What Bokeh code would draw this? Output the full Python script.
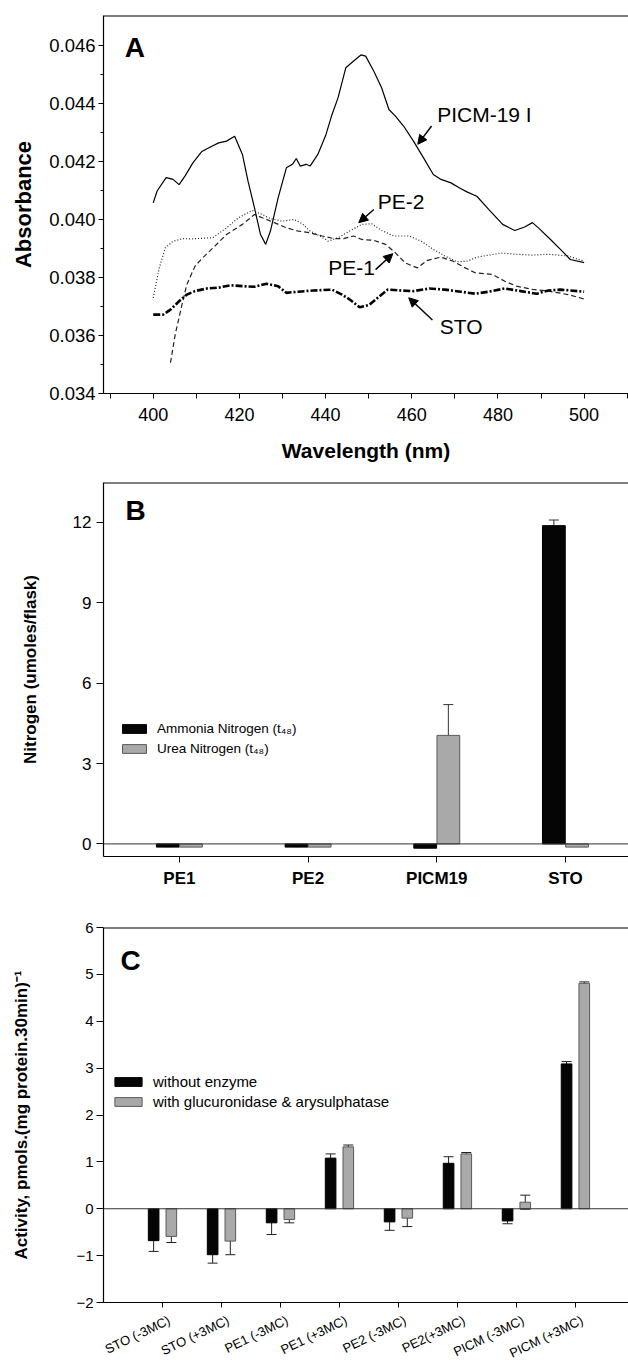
import math
from bokeh.plotting import figure
from bokeh.layouts import column
from bokeh.models import (Range1d, FixedTicker, Span, Legend, LegendItem, Whisker,
                          ColumnDataSource, Arrow, NormalHead, TeeHead, Label,
                          NumeralTickFormatter)
from bokeh.core.properties import value
from bokeh.embed import file_html
from bokeh.resources import INLINE

FONT = "Liberation Sans"

# ---------------- Panel A data ----------------
wl_picm = [400, 400.9, 403, 404.6, 406, 407.4, 409.2, 411.2, 412.9, 415.2, 417, 418.9, 420.7, 422,
           423.5, 424.9, 426.1, 427.2, 429, 430.9, 432.3, 433.2, 434.1, 435.5, 436.4, 438.2, 440.1,
           441.5, 442.9, 444.7, 446.5, 448.2, 449.3, 451.2, 453, 454.7, 456.2, 458.1, 460.4, 462.7,
           465, 466.8, 469.1, 471, 472.8, 475.1, 477.9, 481.1, 483.9, 486.2, 488, 489.4, 492.2,
           494.5, 496.8, 500]
abs_picm = [0.04057, 0.04098, 0.04144, 0.04138, 0.0412, 0.0415, 0.04195, 0.04233, 0.04247, 0.04264,
            0.0427, 0.04287, 0.04224, 0.04132, 0.0404, 0.03948, 0.03914, 0.0396, 0.04075, 0.04178,
            0.0419, 0.0421, 0.04184, 0.0419, 0.04184, 0.04224, 0.04293, 0.04362, 0.0442, 0.04523,
            0.04546, 0.04567, 0.04563, 0.04511, 0.04454, 0.04379, 0.04356, 0.04322, 0.0427, 0.04213,
            0.04155, 0.04138, 0.04126, 0.04109, 0.04095, 0.0408, 0.04034, 0.03983, 0.03962, 0.03974,
            0.03989, 0.03971, 0.03931, 0.03897, 0.03862, 0.03851]

wl_pe2 = [400, 401.4, 402.8, 404.6, 406.9, 408.8, 413.8, 417, 419.8, 423, 425.3, 427.2, 429.9, 432.7,
          434.6, 436.4, 438.7, 440.6, 442.9, 445.6, 448.4, 450.7, 453, 455.8, 459.4, 462.2, 465,
          467.7, 470.5, 472.8, 475.1, 477.9, 480.6, 484.3, 488, 491.7, 496.3, 500]
abs_pe2 = [0.0373, 0.03833, 0.03902, 0.03925, 0.03934, 0.03933, 0.03937, 0.03971, 0.04006, 0.04031,
           0.04017, 0.04003, 0.03994, 0.0400, 0.03985, 0.0396, 0.03943, 0.03925, 0.03937, 0.0396,
           0.03983, 0.03985, 0.03962, 0.03943, 0.03943, 0.03925, 0.03897, 0.03874, 0.03854, 0.03856,
           0.0387, 0.03877, 0.03884, 0.0388, 0.03877, 0.0388, 0.03874, 0.03856]

wl_pe1 = [404, 405.1, 406.5, 407.8, 409.7, 411.5, 414.3, 417, 420.7, 423.5, 425.3, 428.1, 430.9, 433.6,
          436.4, 439.2, 441.9, 444.2, 446.5, 448.4, 451.2, 453.9, 456.2, 458.5, 461.3, 463.6, 466.8,
          469.6, 472.4, 474.7, 478.8, 481.6, 484.3, 488, 491.7, 496.3, 500]
abs_pe1 = [0.03506, 0.03603, 0.03695, 0.03776, 0.03839, 0.03868, 0.03908, 0.03948, 0.03983, 0.04017,
           0.04006, 0.03989, 0.03971, 0.0396, 0.03954, 0.03943, 0.03934, 0.03934, 0.03943, 0.03931,
           0.03928, 0.03914, 0.03885, 0.0385, 0.03833, 0.03859, 0.0387, 0.03856, 0.03833, 0.03816,
           0.0381, 0.03787, 0.0377, 0.03759, 0.03753, 0.03741, 0.03726]

wl_sto = [400, 402.3, 404.1, 406, 407.8, 409.7, 412.4, 415.2, 417.9, 420.7, 423.5, 426.3, 429, 430.9,
          433.6, 437.3, 441.5, 443.8, 445.6, 447.9, 450.2, 452.1, 454.4, 457.6, 460.4, 464.1, 467.7,
          471.4, 474.7, 477.9, 481.6, 485.3, 489, 491.7, 494.5, 500]
abs_sto = [0.03672, 0.03672, 0.0369, 0.03718, 0.03741, 0.03753, 0.03762, 0.03765, 0.03773, 0.0377,
           0.03768, 0.03778, 0.0377, 0.03747, 0.03751, 0.03755, 0.03758, 0.03741, 0.03724, 0.03697,
           0.03706, 0.0373, 0.03758, 0.03755, 0.03753, 0.03762, 0.03758, 0.03751, 0.03744, 0.03751,
           0.03762, 0.03753, 0.03744, 0.03755, 0.03758, 0.03751]

a_yticks = [0.034, 0.036, 0.038, 0.040, 0.042, 0.044, 0.046]
a_yminor = [0.035, 0.037, 0.039, 0.041, 0.043, 0.045]
a_xticks = [400, 420, 440, 460, 480, 500]
a_xminor = [390, 410, 430, 450, 470, 490, 510]

a_labels = ["PICM-19 I", "PE-2", "PE-1", "STO"]
a_label_x = [465.9, 452.1, 440.6, 466.5]
a_label_y = [0.04362, 0.04063, 0.03833, 0.0363]
a_arrow_from = [(464.6, 0.04322), (451.2, 0.04034), (451.6, 0.03827), (464.8, 0.03653)]
a_arrow_to = [(461.4, 0.04259), (447.7, 0.03989), (455.6, 0.03882), (459.3, 0.0373)]

# ---------------- Panel B data ----------------
b_groups = ["PE1", "PE2", "PICM19", "STO"]
b_ammonia = [-0.12, -0.12, -0.16, 11.88]
b_ammonia_err = [0.02, 0.02, 0.02, 0.21]
b_urea = [-0.12, -0.12, 4.05, -0.12]
b_urea_err = [0.03, 0.03, 1.15, 0.03]
b_yticks = [0, 3, 6, 9, 12]

# ---------------- Panel C data ----------------
c_groups = ["STO (-3MC)", "STO (+3MC)", "PE1 (-3MC)", "PE1 (+3MC)", "PE2 (-3MC)",
            "PE2(+3MC)", "PICM (-3MC)", "PICM (+3MC)"]
c_without = [-0.68, -0.98, -0.30, 1.08, -0.28, 0.97, -0.26, 3.09]
c_without_err = [0.23, 0.18, 0.25, 0.09, 0.18, 0.14, 0.06, 0.05]
c_with = [-0.59, -0.69, -0.23, 1.32, -0.20, 1.17, 0.14, 4.81]
c_with_err = [0.13, 0.29, 0.07, 0.04, 0.18, 0.03, 0.15, 0.03]
c_yticks = [-2, -1, 0, 1, 2, 3, 4, 5, 6]

BLACK = "#050505"
GREY = "#a9a9a9"
GREY_EDGE = "#5a5a5a"


def base_fig(h, xr, yr, left, top, bottom):
    p = figure(width=628, height=h, x_range=xr, y_range=yr, output_backend="svg",
               toolbar_location=None, min_border_left=left, min_border_right=0,
               min_border_top=top, min_border_bottom=bottom)
    p.outline_line_color = None
    p.grid.visible = False
    for ax in (p.xaxis[0], p.yaxis[0]):
        ax.axis_line_color = "black"
        ax.axis_line_width = 1.2
        ax.major_tick_line_color = "black"
        ax.minor_tick_line_color = None
        ax.major_tick_in = 0
        ax.minor_tick_in = 0
        ax.major_label_text_font = FONT
        ax.major_label_text_color = "black"
        ax.axis_label_text_font = FONT
        ax.axis_label_text_font_style = "bold"
        ax.axis_label_text_color = "black"
    return p


# ================= Panel A =================
ya0, ya1 = 0.034, 0.04703
pA = base_fig(464, Range1d(388.46, 510.3), Range1d(ya0, ya1), 100, 15, 71)
pA.add_layout(Span(location=ya1, dimension="width", line_color="black", line_width=2))
ya = pA.yaxis[0]
ya.ticker = FixedTicker(ticks=a_yticks, minor_ticks=a_yminor)
ya.formatter = NumeralTickFormatter(format="0.000")
ya.major_tick_out = 5
ya.minor_tick_out = 3
ya.minor_tick_line_color = "black"
ya.major_label_standoff = 3
ya.major_label_text_font_size = "18.5px"
ya.axis_label = "Absorbance"
ya.axis_label_text_font_size = "22px"
ya.axis_label_standoff = 10
xa = pA.xaxis[0]
xa.ticker = FixedTicker(ticks=a_xticks, minor_ticks=a_xminor)
xa.major_tick_out = 5
xa.minor_tick_out = 5
xa.minor_tick_line_color = "black"
xa.major_label_standoff = 9
xa.major_label_text_font_size = "18px"
xa.axis_label = "Wavelength (nm)"
xa.axis_label_text_font_size = "21px"
xa.axis_label_standoff = 15

pA.line(wl_picm, abs_picm, line_color="black", line_width=1.2)
pA.line(wl_pe2, abs_pe2, line_color="#222222", line_width=1.2, line_dash="1 2")
pA.line(wl_pe1, abs_pe1, line_color="#222222", line_width=1.2, line_dash="5 3")
pA.line(wl_sto, abs_sto, line_color="black", line_width=2.6, line_dash="7 2 2 2")

for t, x, y in zip(a_labels, a_label_x, a_label_y):
    pA.add_layout(Label(x=x, y=y, text=t, text_font=FONT, text_font_size="21px",
                        text_baseline="middle", text_align="left", text_color="black"))
for (x0, y0), (x1, y1) in zip(a_arrow_from, a_arrow_to):
    pA.add_layout(Arrow(end=NormalHead(size=9, fill_color="black", line_color="black"),
                        x_start=x0, y_start=y0, x_end=x1, y_end=y1,
                        line_color="black", line_width=1.4))
pA.add_layout(Label(x=393.4, y=0.04594, text="A", text_font=FONT, text_font_size="28px",
                    text_font_style="bold", text_baseline="middle", text_color="black"))

# ================= Panel B =================
yb0, yb1 = -0.47, 13.49
pB = base_fig(431, Range1d(0.41, 4.49), Range1d(yb0, yb1), 98, 18, 39)
pB.add_layout(Span(location=yb1, dimension="width", line_color="black", line_width=2))
pB.add_layout(Span(location=0, dimension="width", line_color="#333333", line_width=1))
yb = pB.yaxis[0]
yb.ticker = FixedTicker(ticks=b_yticks)
yb.major_tick_out = 7
yb.major_label_standoff = 5
yb.major_label_text_font_size = "17px"
yb.axis_label = "Nitrogen (umoles/flask)"
yb.axis_label_text_font_size = "17px"
yb.axis_label_standoff = 30
xb = pB.xaxis[0]
xb.ticker = FixedTicker(ticks=[1, 2, 3, 4])
xb.major_label_overrides = {i + 1: g for i, g in enumerate(b_groups)}
xb.major_tick_out = 6
xb.major_label_standoff = 6
xb.major_label_text_font_size = "17px"
xb.major_label_text_font_style = "bold"

xpos_b = [i + 1 for i in range(len(b_groups))]
srcB1 = ColumnDataSource(dict(x=[v - 0.09 for v in xpos_b], top=b_ammonia,
                              up=[a + e for a, e in zip(b_ammonia, b_ammonia_err)]))
srcB2 = ColumnDataSource(dict(x=[v + 0.09 for v in xpos_b], top=b_urea,
                              up=[a + e for a, e in zip(b_urea, b_urea_err)]))
rb1 = pB.vbar(x="x", top="top", bottom=0, width=0.177, source=srcB1,
              fill_color=BLACK, line_color="black", line_width=1)
rb2 = pB.vbar(x="x", top="top", bottom=0, width=0.177, source=srcB2,
              fill_color=GREY, line_color=GREY_EDGE, line_width=1)
for s in (srcB1, srcB2):
    pB.add_layout(Whisker(base="x", upper="up", lower="top", source=s, dimension="height",
                          line_color="#333333", line_width=1,
                          upper_head=TeeHead(size=10, line_color="#333333", line_width=1),
                          lower_head=None))
legB = Legend(items=[LegendItem(label="Ammonia Nitrogen (t\u2084\u2088)", renderers=[rb1]),
                     LegendItem(label="Urea Nitrogen (t\u2084\u2088)", renderers=[rb2])],
              location=(16, 100), glyph_width=30, glyph_height=11, label_height=11,
              label_standoff=8, spacing=5, padding=0, margin=0,
              border_line_color=None, background_fill_alpha=0,
              label_text_font=FONT, label_text_font_size="13.5px", label_text_color="black")
pB.add_layout(legB)
pB.add_layout(Label(x=0.58, y=12.44, text="B", text_font=FONT, text_font_size="28px",
                    text_font_style="bold", text_baseline="middle", text_color="black"))

# ================= Panel C =================
yc0, yc1 = -2, 6
xc_range = Range1d(0, 8.9)
pC = base_fig(417, xc_range, Range1d(yc0, yc1), 103, 32, 10)
pC.add_layout(Span(location=yc1, dimension="width", line_color="black", line_width=2))
pC.add_layout(Span(location=0, dimension="width", line_color="#333333", line_width=1))
yc = pC.yaxis[0]
yc.ticker = FixedTicker(ticks=c_yticks)
yc.major_tick_out = 7
yc.major_label_standoff = 3
yc.major_label_text_font_size = "15px"
yc.axis_label = "Activity, pmols.(mg protein.30min)\u207b\u00b9"
yc.axis_label_text_font_size = "17px"
yc.axis_label_standoff = 42
xc = pC.xaxis[0]
xpos_c = [i + 1 for i in range(len(c_groups))]
xc.ticker = FixedTicker(ticks=xpos_c)
xc.major_label_overrides = {v: "" for v in xpos_c}
xc.major_tick_out = 5
xc.major_label_standoff = 0
xc.major_label_text_font_size = "0px"

srcC1 = ColumnDataSource(dict(x=[v - 0.15 for v in xpos_c], top=c_without,
                              up=[a + e for a, e in zip(c_without, c_without_err)],
                              lo=[a - e for a, e in zip(c_without, c_without_err)]))
srcC2 = ColumnDataSource(dict(x=[v + 0.15 for v in xpos_c], top=c_with,
                              up=[a + e for a, e in zip(c_with, c_with_err)],
                              lo=[a - e for a, e in zip(c_with, c_with_err)]))
rc1 = pC.vbar(x="x", top="top", bottom=0, width=0.18, source=srcC1,
              fill_color=BLACK, line_color="black", line_width=1)
rc2 = pC.vbar(x="x", top="top", bottom=0, width=0.18, source=srcC2,
              fill_color=GREY, line_color=GREY_EDGE, line_width=1)
for s in (srcC1, srcC2):
    pC.add_layout(Whisker(base="x", upper="up", lower="lo", source=s, dimension="height",
                          line_color="#222222", line_width=1,
                          upper_head=TeeHead(size=10, line_color="#222222", line_width=1),
                          lower_head=TeeHead(size=10, line_color="#222222", line_width=1)))
legC = Legend(items=[LegendItem(label="without enzyme", renderers=[rc1]),
                     LegendItem(label="with glucuronidase & arysulphatase", renderers=[rc2])],
              location=(8, 192), glyph_width=34, glyph_height=11, label_height=11,
              label_standoff=8, spacing=3, padding=0, margin=0,
              border_line_color=None, background_fill_alpha=0,
              label_text_font=FONT, label_text_font_size="15px", label_text_color="black")
pC.add_layout(legC)
pC.add_layout(Label(x=0.29, y=5.29, text="C", text_font=FONT, text_font_size="28px",
                    text_font_style="bold", text_baseline="middle", text_color="black"))

# strip under panel C holding the slanted category names (shares C's x scale)
pCl = figure(width=628, height=50, x_range=xc_range, y_range=Range1d(0, 50),
             output_backend="svg", toolbar_location=None, x_axis_location=None,
             y_axis_location=None, min_border_left=103, min_border_right=0,
             min_border_top=0, min_border_bottom=0)
pCl.outline_line_color = None
pCl.grid.visible = False
pCl.text(x=[v + 0.06 for v in xpos_c], y=[50] * len(xpos_c), text=c_groups, angle=0.45,
         text_align="right", text_baseline="top", text_font=value(FONT),
         text_font_size=value("13px"), text_color="black")

layout = column(pA, pB, pC, pCl, spacing=0)
open("out.html", "w").write(file_html(layout, INLINE))
